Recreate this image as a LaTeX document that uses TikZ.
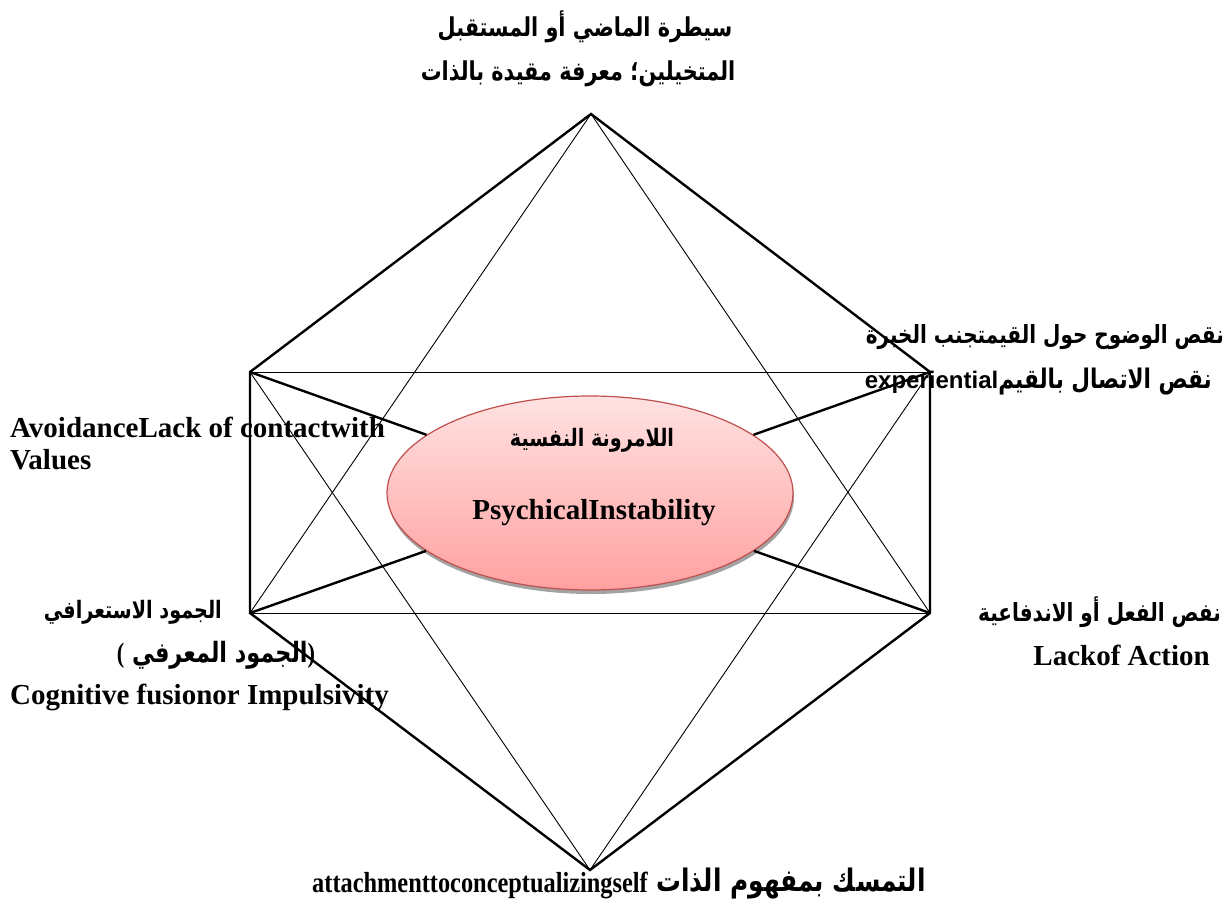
\documentclass[tikz,border=0pt]{standalone}
\usepackage{fontspec}
\setmainfont{Liberation Serif}
\newfontfamily\arabicfont[Script=Arabic]{DejaVu Sans}
\newfontfamily\lsans{Liberation Sans}
\TeXXeTstate=1
\usetikzlibrary{shapes.geometric,shadows}
\definecolor{ellborder}{RGB}{192,80,77}
\definecolor{elltop}{RGB}{255,226,226}
\definecolor{ellbot}{RGB}{255,160,160}
\newcommand{\artext}[1]{\scalebox{0.8}[1]{\beginR #1\endR}}
\begin{document}
\begin{tikzpicture}[x=1pt,y=-1pt,
  thickline/.style={line width=2.4pt, line join=miter},
  thinline/.style={line width=0.9pt},
  lat/.style={font=\fontsize{29}{32}\selectfont\bfseries, inner sep=0pt},
  ar/.style={font=\fontsize{25}{28}\selectfont\arabicfont\bfseries, inner sep=0pt},
  arsize/.style={font=\fontsize{#1}{28}\selectfont\arabicfont\bfseries},
  core/.style={ellipse, draw=ellborder, line width=1.2pt, top color=elltop, bottom color=ellbot,
    minimum width=406pt, minimum height=194pt, inner sep=0pt,
    drop shadow={shadow xshift=1pt, shadow yshift=-4pt, fill=black!45, opacity=0.8}}]
\useasboundingbox (0,0) rectangle (1230,904);
% vertices
\coordinate (T) at (591,114);
\coordinate (LU) at (250,372);
\coordinate (RU) at (930,372);
\coordinate (LL) at (250,613);
\coordinate (RL) at (930,613);
\coordinate (B) at (590,870);
% thin lines: rectangle and two triangles
\draw[thinline] (LU) -- (RU);
\draw[thinline] (LL) -- (RL);
\draw[thinline] (T) -- (LL);
\draw[thinline] (T) -- (RL);
\draw[thinline] (B) -- (LU);
\draw[thinline] (B) -- (RU);
% thick outer hexagon
\draw[thickline] (T) -- (RU) -- (RL) -- (B) -- (LL) -- (LU) -- cycle;
% central ellipse
\node[core] (ell) at (590,493) {};
\node[ar, arsize=24] (cAr) at (592,440) {\artext{اللامرونة النفسية}};
\node[lat] (cEn) at (594,513) {PsychicalInstability};
% spokes
\draw[thickline] (LU) -- (ell);
\draw[thickline] (RU) -- (ell);
\draw[thickline] (LL) -- (ell);
\draw[thickline] (RL) -- (ell);
% labels
\node[ar, arsize=26] (top1) at (585,27) {\artext{سيطرة الماضي أو المستقبل}};
\node[ar, arsize=26] (top2) at (578,74) {\artext{المتخيلين؛ معرفة مقيدة بالذات}};
\node[ar, anchor=east] (ru1) at (1224,337) {\artext{نقص الوضوح حول القيمتجنب الخبرة}};
\node[ar, anchor=east, arsize=27] (ru2) at (1212,382) {{\lsans\bfseries\fontsize{24}{28}\selectfont experiential}\artext{نقص الاتصال بالقيم}};
\node[lat, anchor=west] (lu1) at (10,427) {AvoidanceLack of contactwith};
\node[lat, anchor=west] (lu2) at (10,460) {Values};
\node[ar, anchor=east, arsize=24] (ll1) at (222,612) {\artext{الجمود الاستعرافي}};
\node[ar, arsize=28] (ll2) at (216,655) {\scalebox{0.8}[1]{{\rmfamily\bfseries (}\space\beginR الجمود المعرفي\endR{\rmfamily\bfseries )}}};
\node[lat, anchor=west] (ll3) at (10,697) {Cognitive fusionor Impulsivity};
\node[ar, anchor=east] (rl1) at (1221,612) {\artext{نفص الفعل أو الاندفاعية}};
\node[lat, anchor=east] (rl2) at (1210,655) {Lackof Action};
\node[lat, anchor=east] (b1) at (648,885) {\scalebox{0.84}[1]{attachmenttoconceptualizingself}};
\node[ar, anchor=west, arsize=31] (b2) at (656,884) {\artext{التمسك بمفهوم الذات}};
\end{tikzpicture}
\end{document}
